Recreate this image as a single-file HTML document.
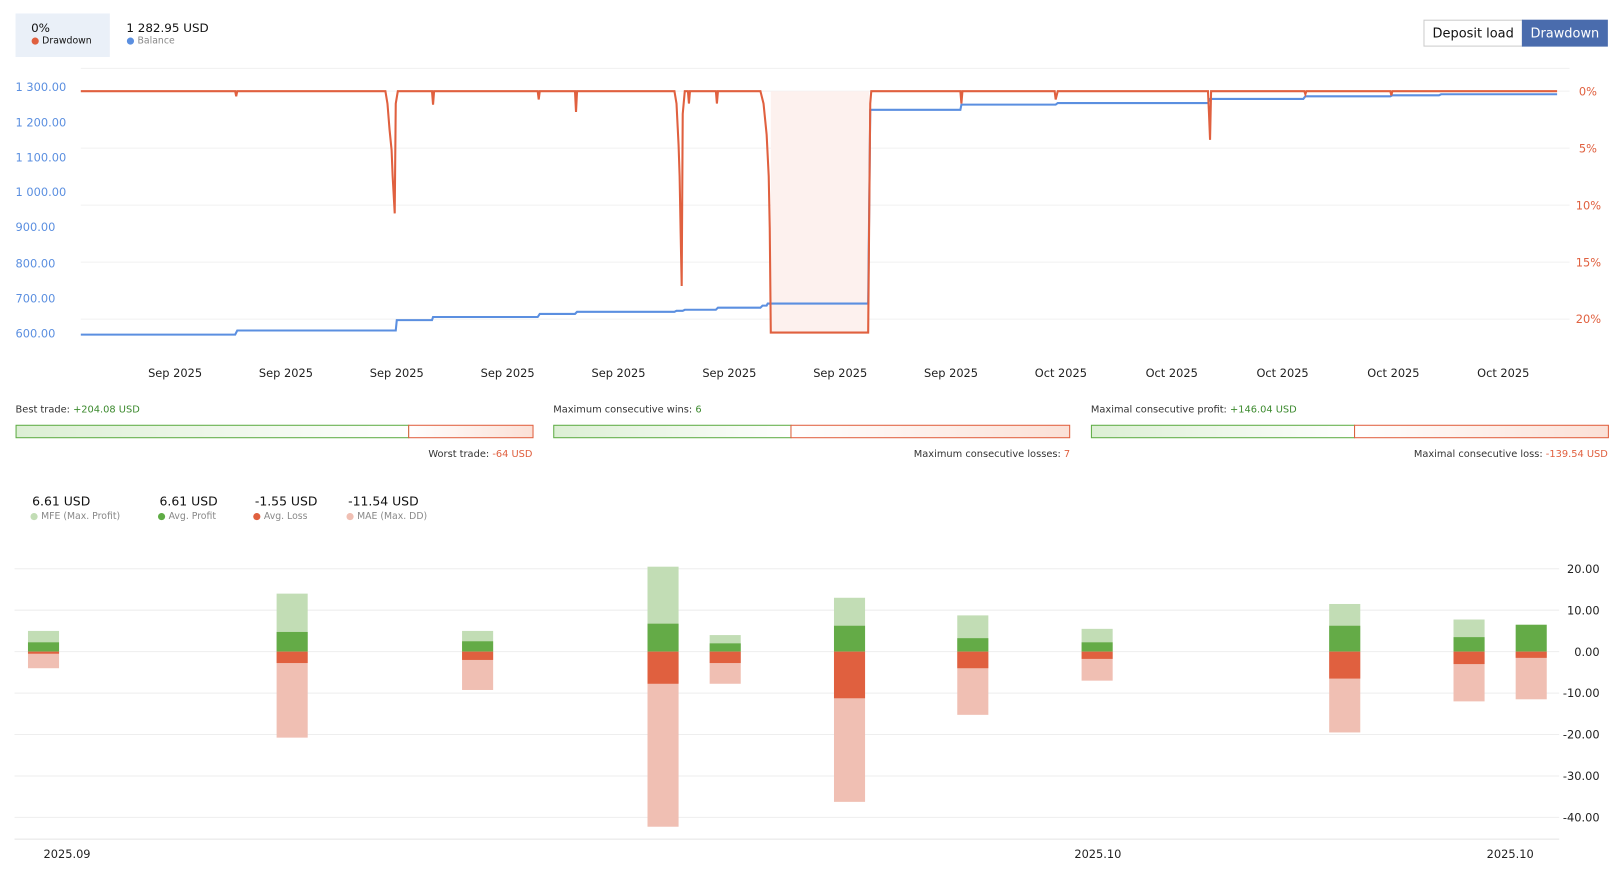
<!DOCTYPE html>
<html><head><meta charset="utf-8"><style>
body{margin:0;background:#fff;font-family:"DejaVu Sans","Liberation Sans",sans-serif;}
.a{position:absolute;white-space:nowrap}
#w{position:absolute;left:0;top:0;width:1570px;height:850px;transform:scale(1.036);transform-origin:0 0}
</style></head><body>
<div style="position:relative;width:1624px;height:879px;overflow:hidden">
<div id="w">
<div class="a" style="left:15px;top:13px;width:91px;height:42px;background:#eaf0f8"></div>
<div class="a" style="left:30px;top:20px;font-size:11.5px;color:#111">0%</div>
<div class="a" style="left:30px;top:35px;font-size:9px;color:#111"><span style="color:#e0603f">●</span> Drawdown</div>
<div class="a" style="left:122px;top:20px;font-size:11.5px;color:#111">1 282.95 USD</div>
<div class="a" style="left:122px;top:35px;font-size:9px;color:#888"><span style="color:#5b8fe0">●</span> Balance</div>
<div class="a" style="left:1374px;top:19px;width:96px;height:26px;border:1px solid #ccc;box-sizing:border-box;font-size:12.5px;line-height:24px;text-align:center;color:#111">Deposit load</div>
<div class="a" style="left:1469px;top:19px;width:83px;height:26px;background:#4a6cad;font-size:12.5px;line-height:26px;text-align:center;color:#fff">Drawdown</div>

<svg class="a" style="left:0;top:0" width="1570" height="850" font-family="DejaVu Sans, sans-serif">
<g stroke="#f0f0f0" stroke-width="1">
<line x1="78" y1="66" x2="1515" y2="66"/><line x1="78" y1="88" x2="1515" y2="88"/><line x1="78" y1="143" x2="1515" y2="143"/><line x1="78" y1="198" x2="1515" y2="198"/><line x1="78" y1="253" x2="1515" y2="253"/><line x1="78" y1="308" x2="1515" y2="308"/>
</g>
<g font-size="11" fill="#5b8fe0">
<text x="15" y="88">1 300.00</text><text x="15" y="122">1 200.00</text><text x="15" y="156">1 100.00</text><text x="15" y="189">1 000.00</text><text x="15" y="223">900.00</text><text x="15" y="258">800.00</text><text x="15" y="292">700.00</text><text x="15" y="326">600.00</text>
</g>
<g font-size="11" fill="#e0603f">
<text x="1524" y="92">0%</text><text x="1524" y="147">5%</text><text x="1521" y="202">10%</text><text x="1521" y="257">15%</text><text x="1521" y="312">20%</text>
</g>
<rect x="744" y="88" width="95" height="233" fill="#fdf1ee"/>
<polyline fill="none" stroke="#5b8fe0" stroke-width="2" points="78,323 227,323 229,319 382,319 383,309 417,309 418,306 519,306 521,303 555,303 557,301 651,301 653,300 659,300 661,299 691,299 693,297 734,297 736,295 740,295 741,293 838,293 840,106 927,106 928,101 1019,101 1021,99.5 1166,99.5 1168,95.5 1258,95.5 1260,93 1342,93 1344,92 1389,92 1391,91 1503,91"/>
<polyline fill="none" stroke="#e0603f" stroke-width="2" points="78,88 227,88 228,93 229,88 372,88 374,100 376,125 378,145 379,170 381,206 382,100 384,88 417,88 418,101 419,88 519,88 520,96 521,88 555,88 556,108 557,88 651,88 653,100 655,140 656,170 657,225 658,276 659,110 661,88 664,88 665,100 666,88 691,88 692,100 693,88 734,88 737,100 740,130 742,170 743,220 744,321 838,321 839,210 840,100 841,88 927,88 928,100 929,88 1018,88 1019,96 1021,88 1166,88 1167,110 1168,135 1169,88 1259,88 1260,91 1261,88 1342,88 1343,92 1344,88 1503,88"/>
<g font-size="11" fill="#222" text-anchor="middle">
<text x="169" y="364">Sep 2025</text><text x="276" y="364">Sep 2025</text><text x="383" y="364">Sep 2025</text><text x="490" y="364">Sep 2025</text><text x="597" y="364">Sep 2025</text><text x="704" y="364">Sep 2025</text><text x="811" y="364">Sep 2025</text><text x="918" y="364">Sep 2025</text><text x="1024" y="364">Oct 2025</text><text x="1131" y="364">Oct 2025</text><text x="1238" y="364">Oct 2025</text><text x="1345" y="364">Oct 2025</text><text x="1451" y="364">Oct 2025</text>
</g>
<defs>
<linearGradient id="g" x1="0" x2="1"><stop offset="0" stop-color="#dcefd4"/><stop offset="1" stop-color="#fff"/></linearGradient>
<linearGradient id="r" x1="0" x2="1"><stop offset="0" stop-color="#fff"/><stop offset="1" stop-color="#fbe0d6"/></linearGradient>
</defs>
<g stroke-width="1">
<rect x="15.5" y="410.5" width="379" height="12" fill="url(#g)" stroke="#5fac45"/><rect x="394.5" y="410.5" width="120" height="12" fill="url(#r)" stroke="#e0603f"/>
<rect x="534.5" y="410.5" width="229" height="12" fill="url(#g)" stroke="#5fac45"/><rect x="763.5" y="410.5" width="269" height="12" fill="url(#r)" stroke="#e0603f"/>
<rect x="1053.5" y="410.5" width="254" height="12" fill="url(#g)" stroke="#5fac45"/><rect x="1307.5" y="410.5" width="245" height="12" fill="url(#r)" stroke="#e0603f"/>
</g>
<g font-size="9.5" fill="#333">
<text x="15" y="398">Best trade: <tspan fill="#3c8a2e">+204.08 USD</tspan></text>
<text x="514" y="441" text-anchor="end">Worst trade: <tspan fill="#e0603f">-64 USD</tspan></text>
<text x="534" y="398">Maximum consecutive wins: <tspan fill="#3c8a2e">6</tspan></text>
<text x="1033" y="441" text-anchor="end">Maximum consecutive losses: <tspan fill="#e0603f">7</tspan></text>
<text x="1053" y="398">Maximal consecutive profit: <tspan fill="#3c8a2e">+146.04 USD</tspan></text>
<text x="1552" y="441" text-anchor="end">Maximal consecutive loss: <tspan fill="#e0603f">-139.54 USD</tspan></text>
</g>
<g font-size="12" fill="#111">
<text x="31" y="488">6.61 USD</text><text x="154" y="488">6.61 USD</text><text x="246" y="488">-1.55 USD</text><text x="336" y="488">-11.54 USD</text>
</g>
<g font-size="9" fill="#888">
<text x="29" y="501"><tspan fill="#c2ddb5">●</tspan> MFE (Max. Profit)</text>
<text x="152" y="501"><tspan fill="#5fac45">●</tspan> Avg. Profit</text>
<text x="244" y="501"><tspan fill="#e0603f">●</tspan> Avg. Loss</text>
<text x="334" y="501"><tspan fill="#f0bfb3">●</tspan> MAE (Max. DD)</text>
</g>
<g stroke="#eeeeee">
<line x1="14" y1="549" x2="1505" y2="549"/><line x1="14" y1="589" x2="1505" y2="589"/><line x1="14" y1="629" x2="1505" y2="629"/><line x1="14" y1="669" x2="1505" y2="669"/><line x1="14" y1="709" x2="1505" y2="709"/><line x1="14" y1="749" x2="1505" y2="749"/><line x1="14" y1="789" x2="1505" y2="789"/>
<line x1="14" y1="810" x2="1505" y2="810" stroke="#e4e4e4"/>
</g>
<g font-size="11" fill="#222" text-anchor="end">
<text x="1544" y="553">20.00</text><text x="1544" y="593">10.00</text><text x="1544" y="633">0.00</text><text x="1544" y="673">-10.00</text><text x="1544" y="713">-20.00</text><text x="1544" y="753">-30.00</text><text x="1544" y="793">-40.00</text>
</g>
<g font-size="11" fill="#222">
<text x="42" y="828">2025.09</text><text x="1037" y="828">2025.10</text><text x="1435" y="828">2025.10</text>
</g>
<g>
<rect x="27" y="609" width="30" height="20" fill="#c2ddb5"/><rect x="27" y="620" width="30" height="9" fill="#64ab47"/><rect x="27" y="629" width="30" height="16" fill="#f0bfb3"/><rect x="27" y="629" width="30" height="2" fill="#e0603f"/>
<rect x="267" y="573" width="30" height="56" fill="#c2ddb5"/><rect x="267" y="610" width="30" height="19" fill="#64ab47"/><rect x="267" y="629" width="30" height="83" fill="#f0bfb3"/><rect x="267" y="629" width="30" height="11" fill="#e0603f"/>
<rect x="446" y="609" width="30" height="20" fill="#c2ddb5"/><rect x="446" y="619" width="30" height="10" fill="#64ab47"/><rect x="446" y="629" width="30" height="37" fill="#f0bfb3"/><rect x="446" y="629" width="30" height="8" fill="#e0603f"/>
<rect x="625" y="547" width="30" height="82" fill="#c2ddb5"/><rect x="625" y="602" width="30" height="27" fill="#64ab47"/><rect x="625" y="629" width="30" height="169" fill="#f0bfb3"/><rect x="625" y="629" width="30" height="31" fill="#e0603f"/>
<rect x="685" y="613" width="30" height="16" fill="#c2ddb5"/><rect x="685" y="621" width="30" height="8" fill="#64ab47"/><rect x="685" y="629" width="30" height="31" fill="#f0bfb3"/><rect x="685" y="629" width="30" height="11" fill="#e0603f"/>
<rect x="805" y="577" width="30" height="52" fill="#c2ddb5"/><rect x="805" y="604" width="30" height="25" fill="#64ab47"/><rect x="805" y="629" width="30" height="145" fill="#f0bfb3"/><rect x="805" y="629" width="30" height="45" fill="#e0603f"/>
<rect x="924" y="594" width="30" height="35" fill="#c2ddb5"/><rect x="924" y="616" width="30" height="13" fill="#64ab47"/><rect x="924" y="629" width="30" height="61" fill="#f0bfb3"/><rect x="924" y="629" width="30" height="16" fill="#e0603f"/>
<rect x="1044" y="607" width="30" height="22" fill="#c2ddb5"/><rect x="1044" y="620" width="30" height="9" fill="#64ab47"/><rect x="1044" y="629" width="30" height="28" fill="#f0bfb3"/><rect x="1044" y="629" width="30" height="7" fill="#e0603f"/>
<rect x="1283" y="583" width="30" height="46" fill="#c2ddb5"/><rect x="1283" y="604" width="30" height="25" fill="#64ab47"/><rect x="1283" y="629" width="30" height="78" fill="#f0bfb3"/><rect x="1283" y="629" width="30" height="26" fill="#e0603f"/>
<rect x="1403" y="598" width="30" height="31" fill="#c2ddb5"/><rect x="1403" y="615" width="30" height="14" fill="#64ab47"/><rect x="1403" y="629" width="30" height="48" fill="#f0bfb3"/><rect x="1403" y="629" width="30" height="12" fill="#e0603f"/>
<rect x="1463" y="603" width="30" height="26" fill="#64ab47"/><rect x="1463" y="629" width="30" height="46" fill="#f0bfb3"/><rect x="1463" y="629" width="30" height="6" fill="#e0603f"/>
</g>
</svg>
</div>
</div>
</body></html>
